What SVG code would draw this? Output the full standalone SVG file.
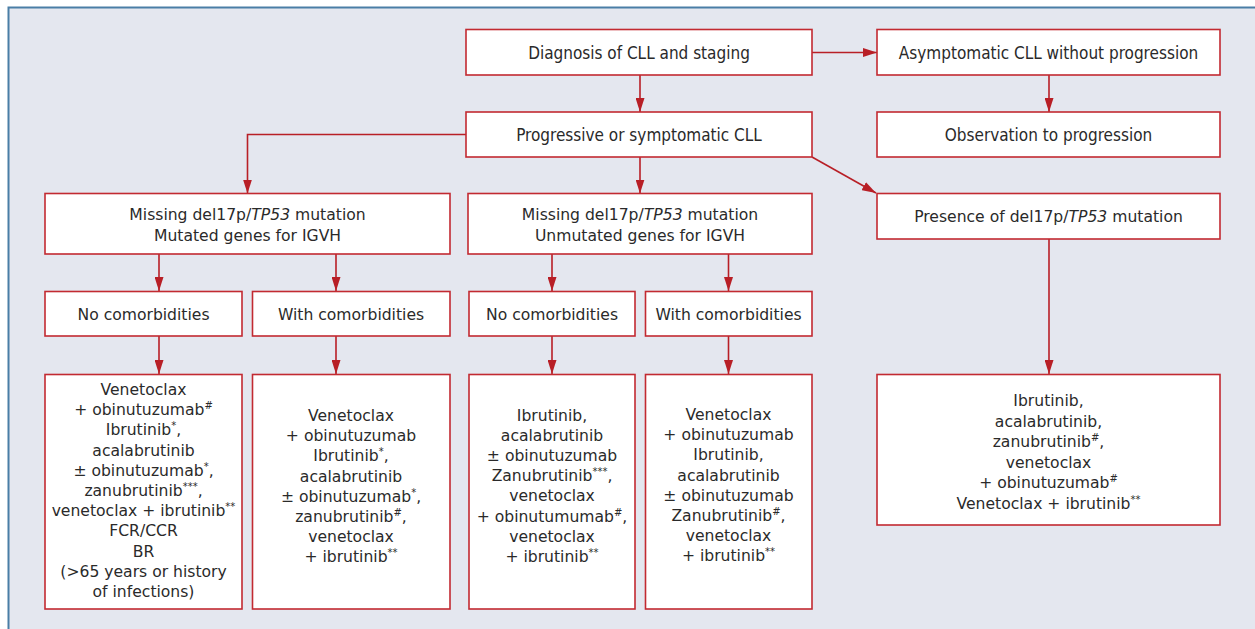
<svg xmlns="http://www.w3.org/2000/svg" width="1255" height="629" viewBox="0 0 1255 629">
<style>
.bg{fill:#e4e7ef}
.frame{fill:none;stroke:#4a7ea6;stroke-width:2}
.box{fill:#fff;stroke:#c22a31;stroke-width:1.6}
.t{font-family:'DejaVu Sans','Liberation Sans',sans-serif;font-size:15.6px;fill:#2a2a2a;text-anchor:middle}
.tc{font-family:'DejaVu Sans Condensed','DejaVu Sans',sans-serif;font-stretch:condensed;font-size:17px;fill:#2a2a2a;text-anchor:middle}
.sup{font-size:10px}
.conn{fill:none;stroke:#b81f26;stroke-width:1.6;marker-end:url(#ah)}
</style>
<defs>
<marker id="ah" viewBox="0 0 14 9" markerWidth="14" markerHeight="9" refX="14" refY="4.5" orient="auto" markerUnits="userSpaceOnUse">
<path d="M0,0 L14,4.5 L0,9 z" fill="#b81f26"/>
</marker>
</defs>
<rect class="bg" x="8" y="7.5" width="1247" height="622"/>
<path class="frame" d="M8.5,629 L8.5,7.5 L1255,7.5"/>

<g id="connectors">
<path class="conn" d="M812,52.5 L877,52.5"/>
<path class="conn" d="M640,75 L640,112"/>
<path class="conn" d="M1049,75 L1049,112"/>
<path class="conn" d="M466,134.5 L247.5,134.5 L247.5,193.5"/>
<path class="conn" d="M640,157 L640,193.5"/>
<path class="conn" d="M812,157 L876,193"/>
<path class="conn" d="M159,254 L159,291"/>
<path class="conn" d="M336,254 L336,291"/>
<path class="conn" d="M552,254 L552,291"/>
<path class="conn" d="M728.5,254 L728.5,291"/>
<path class="conn" d="M159,336 L159,374"/>
<path class="conn" d="M336,336 L336,374"/>
<path class="conn" d="M552,336 L552,374"/>
<path class="conn" d="M728.5,336 L728.5,374"/>
<path class="conn" d="M1049,239 L1049,374"/>
</g>

<g id="diagnosis">
<rect class="box" x="466" y="29.5" width="346" height="45.5"/>
<text class="tc" x="639" y="59">Diagnosis of CLL and staging</text>
</g>
<g id="asymptomatic">
<rect class="box" x="877" y="29.5" width="343" height="45.5"/>
<text class="tc" x="1048.5" y="59">Asymptomatic CLL without progression</text>
</g>
<g id="progressive">
<rect class="box" x="466" y="112" width="346" height="45"/>
<text class="tc" x="639" y="141">Progressive or symptomatic CLL</text>
</g>
<g id="observation">
<rect class="box" x="877" y="112" width="343" height="45"/>
<text class="tc" x="1048.5" y="141">Observation to progression</text>
</g>

<g id="missing-mutated">
<rect class="box" x="45" y="193.5" width="405" height="60.5"/>
<text class="t" x="247.5" y="219.5">Missing del17p/<tspan font-style="italic">TP53</tspan> mutation</text>
<text class="t" x="247.5" y="241">Mutated genes for IGVH</text>
</g>
<g id="missing-unmutated">
<rect class="box" x="468" y="193.5" width="344" height="60.5"/>
<text class="t" x="640" y="219.5">Missing del17p/<tspan font-style="italic">TP53</tspan> mutation</text>
<text class="t" x="640" y="241">Unmutated genes for IGVH</text>
</g>
<g id="presence">
<rect class="box" x="877" y="193.5" width="343" height="45.5"/>
<text class="t" x="1048.5" y="222">Presence of del17p/<tspan font-style="italic">TP53</tspan> mutation</text>
</g>

<g id="no-comorb-1">
<rect class="box" x="45" y="291.5" width="197" height="44.5"/>
<text class="t" x="143.5" y="320">No comorbidities</text>
</g>
<g id="with-comorb-1">
<rect class="box" x="252.5" y="291.5" width="197.5" height="44.5"/>
<text class="t" x="351" y="320">With comorbidities</text>
</g>
<g id="no-comorb-2">
<rect class="box" x="469" y="291.5" width="166" height="44.5"/>
<text class="t" x="552" y="320">No comorbidities</text>
</g>
<g id="with-comorb-2">
<rect class="box" x="645.5" y="291.5" width="166.5" height="44.5"/>
<text class="t" x="728.5" y="320">With comorbidities</text>
</g>

<g id="treat-a">
<rect class="box" x="45" y="374.5" width="197" height="234.5"/>
<text class="t" x="143.5" y="395">Venetoclax</text>
<text class="t" x="143.5" y="415.2">+ obinutuzumab<tspan class="sup" dy="-6">#</tspan></text>
<text class="t" x="143.5" y="435.4">Ibrutinib<tspan class="sup" dy="-6">*</tspan><tspan dy="6">,</tspan></text>
<text class="t" x="143.5" y="455.6">acalabrutinib</text>
<text class="t" x="143.5" y="475.8">± obinutuzumab<tspan class="sup" dy="-6">*</tspan><tspan dy="6">,</tspan></text>
<text class="t" x="143.5" y="496">zanubrutinib<tspan class="sup" dy="-6">***</tspan><tspan dy="6">,</tspan></text>
<text class="t" x="143.5" y="516.2">venetoclax + ibrutinib<tspan class="sup" dy="-6">**</tspan></text>
<text class="t" x="143.5" y="536.4">FCR/CCR</text>
<text class="t" x="143.5" y="556.6">BR</text>
<text class="t" x="143.5" y="576.8">(&gt;65 years or history</text>
<text class="t" x="143.5" y="597">of infections)</text>
</g>
<g id="treat-b">
<rect class="box" x="252.5" y="374.5" width="197.5" height="234.5"/>
<text class="t" x="351" y="421">Venetoclax</text>
<text class="t" x="351" y="441.2">+ obinutuzumab</text>
<text class="t" x="351" y="461.4">Ibrutinib<tspan class="sup" dy="-6">*</tspan><tspan dy="6">,</tspan></text>
<text class="t" x="351" y="481.6">acalabrutinib</text>
<text class="t" x="351" y="501.8">± obinutuzumab<tspan class="sup" dy="-6">*</tspan><tspan dy="6">,</tspan></text>
<text class="t" x="351" y="522">zanubrutinib<tspan class="sup" dy="-6">#</tspan><tspan dy="6">,</tspan></text>
<text class="t" x="351" y="542.2">venetoclax</text>
<text class="t" x="351" y="562.4">+ ibrutinib<tspan class="sup" dy="-6">**</tspan></text>
</g>
<g id="treat-c">
<rect class="box" x="469" y="374.5" width="166" height="234.5"/>
<text class="t" x="552" y="420.5">Ibrutinib,</text>
<text class="t" x="552" y="440.7">acalabrutinib</text>
<text class="t" x="552" y="460.9">± obinutuzumab</text>
<text class="t" x="552" y="481.1">Zanubrutinib<tspan class="sup" dy="-6">***</tspan><tspan dy="6">,</tspan></text>
<text class="t" x="552" y="501.3">venetoclax</text>
<text class="t" x="552" y="521.5">+ obinutumumab<tspan class="sup" dy="-6">#</tspan><tspan dy="6">,</tspan></text>
<text class="t" x="552" y="541.7">venetoclax</text>
<text class="t" x="552" y="561.9">+ ibrutinib<tspan class="sup" dy="-6">**</tspan></text>
</g>
<g id="treat-d">
<rect class="box" x="645.5" y="374.5" width="166.5" height="234.5"/>
<text class="t" x="728.5" y="420">Venetoclax</text>
<text class="t" x="728.5" y="440.2">+ obinutuzumab</text>
<text class="t" x="728.5" y="460.4">Ibrutinib,</text>
<text class="t" x="728.5" y="480.6">acalabrutinib</text>
<text class="t" x="728.5" y="500.8">± obinutuzumab</text>
<text class="t" x="728.5" y="521">Zanubrutinib<tspan class="sup" dy="-6">#</tspan><tspan dy="6">,</tspan></text>
<text class="t" x="728.5" y="541.2">venetoclax</text>
<text class="t" x="728.5" y="561.4">+ ibrutinib<tspan class="sup" dy="-6">**</tspan></text>
</g>
<g id="treat-e">
<rect class="box" x="877" y="374.5" width="343" height="150.5"/>
<text class="t" x="1048.5" y="406">Ibrutinib,</text>
<text class="t" x="1048.5" y="426.5">acalabrutinib,</text>
<text class="t" x="1048.5" y="447">zanubrutinib<tspan class="sup" dy="-6">#</tspan><tspan dy="6">,</tspan></text>
<text class="t" x="1048.5" y="467.5">venetoclax</text>
<text class="t" x="1048.5" y="488">+ obinutuzumab<tspan class="sup" dy="-6">#</tspan></text>
<text class="t" x="1048.5" y="508.5">Venetoclax + ibrutinib<tspan class="sup" dy="-6">**</tspan></text>
</g>
</svg>
